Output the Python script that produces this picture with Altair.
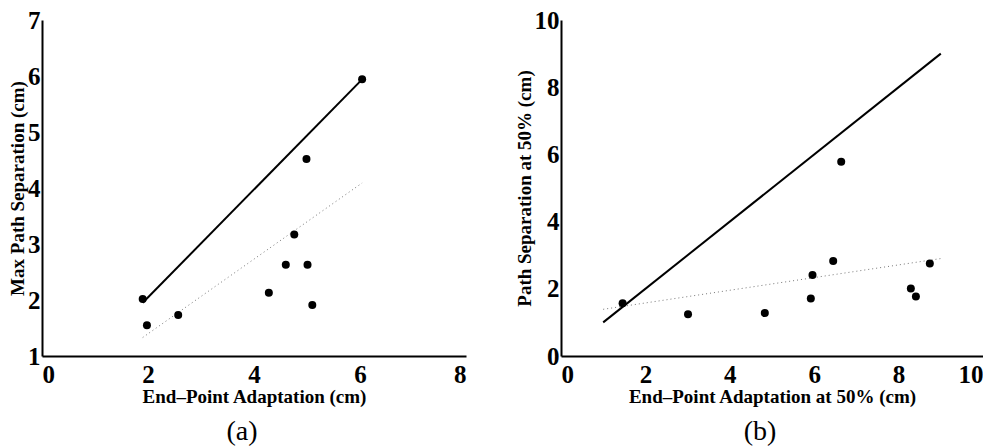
import altair as alt
import pandas as pd

# ---- panel (a) data ----
a_x = [1.90, 1.98, 2.57, 4.28, 4.60, 4.76, 4.99, 5.01, 5.10, 6.04]
a_y = [2.02, 1.55, 1.73, 2.13, 2.63, 3.17, 4.52, 2.63, 1.91, 5.94]
a_solid_x = [1.90, 6.04]
a_solid_y = [1.95, 5.94]
a_dot_x = [1.90, 6.04]
a_dot_y = [1.33, 4.09]
a_xticks = [0, 2, 4, 6, 8]
a_yticks = [1, 2, 3, 4, 5, 6, 7]

# ---- panel (b) data ----
b_x = [1.46, 3.01, 4.83, 5.92, 5.96, 6.45, 6.64, 8.29, 8.41, 8.74]
b_y = [1.57, 1.24, 1.28, 1.71, 2.41, 2.83, 5.78, 2.01, 1.77, 2.75]
b_solid_x = [1.0, 9.0]
b_solid_y = [1.0, 9.0]
b_dot_x = [1.0, 9.0]
b_dot_y = [1.39, 2.90]
b_xticks = [0, 2, 4, 6, 8, 10]
b_yticks = [0, 2, 4, 6, 8, 10]

FONT = "Liberation Serif"


def panel(px, py, sx, sy, dx, dy, xdom, ydom, xt, yt, xtitle, ytitle, cap, w, h):
    xs = alt.Scale(domain=xdom, nice=False, zero=False)
    ys = alt.Scale(domain=ydom, nice=False, zero=False)
    xa = alt.Axis(values=xt, title=xtitle, format="d")
    ya = alt.Axis(values=yt, title=ytitle, format="d")
    pts = alt.Chart(pd.DataFrame({"x": px, "y": py})).mark_circle(
        size=64, color="black", opacity=1
    ).encode(x=alt.X("x:Q", scale=xs, axis=xa), y=alt.Y("y:Q", scale=ys, axis=ya))
    solid = alt.Chart(pd.DataFrame({"x": sx, "y": sy})).mark_line(
        color="black", strokeWidth=2
    ).encode(x=alt.X("x:Q", scale=xs), y=alt.Y("y:Q", scale=ys))
    dotted = alt.Chart(pd.DataFrame({"x": dx, "y": dy})).mark_line(
        color="#777777", strokeWidth=1, strokeDash=[1, 3]
    ).encode(x=alt.X("x:Q", scale=xs), y=alt.Y("y:Q", scale=ys))
    return alt.layer(solid, dotted, pts).properties(
        width=w, height=h,
        title=alt.TitleParams(cap, orient="bottom", anchor="middle", font=FONT,
                              fontSize=28, fontWeight="normal", offset=12, dx=-12),
    )


pa = panel(a_x, a_y, a_solid_x, a_solid_y, a_dot_x, a_dot_y, [0, 8], [1, 7],
           a_xticks, a_yticks, "End\u2013Point Adaptation (cm)", "Max Path Separation (cm)",
           "(a)", 424, 336)
pb = panel(b_x, b_y, b_solid_x, b_solid_y, b_dot_x, b_dot_y, [0, 10], [0, 10],
           b_xticks, b_yticks, "End\u2013Point Adaptation at 50% (cm)",
           "Path Separation at 50% (cm)", "(b)", 422, 336)

chart = alt.hconcat(pa, pb, spacing=49).properties(
    padding={"left": 0, "top": 0, "right": 0, "bottom": 0}
).configure_view(stroke=None).configure_axis(
    domainColor="black", domainWidth=2, ticks=False, grid=False,
    labelFont=FONT, labelFontSize=25, labelFontWeight="bold", labelColor="black",
    labelPadding=2,
    titleFont=FONT, titleFontSize=19, titleFontWeight="bold", titleColor="black",
).configure_axisX(labelPadding=6, titlePadding=0).configure_axisY(titlePadding=0)

chart.save("out.html", embed_options={"renderer": "svg", "actions": False})
